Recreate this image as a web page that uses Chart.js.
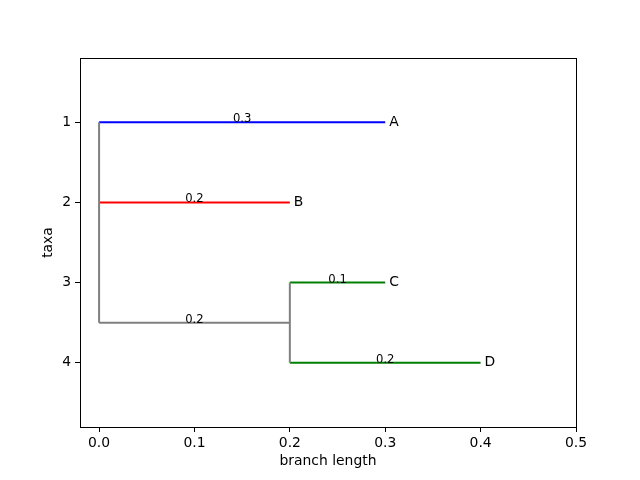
<!DOCTYPE html>
<html>
<head>
<meta charset="utf-8">
<script src="https://cdn.jsdelivr.net/npm/chart.js@4.4.1/dist/chart.umd.min.js"></script>
<style>
  html, body { margin: 0; padding: 0; background: #fff; }
  #wrap { width: 640px; height: 480px; }
</style>
</head>
<body>
<div id="wrap"><canvas id="tree"></canvas></div>
<script>
// tip names and where they sit
var taxa = ['A', 'B', 'C', 'D'];
var taxaY = [1, 2, 3, 4];
var taxaX = [0.3, 0.2, 0.3, 0.4];
// horizontal branches: start, end, row, branch length label
var branchFrom = [0, 0, 0, 0.2, 0.2];
var branchTo = [0.3, 0.2, 0.2, 0.3, 0.4];
var branchRow = [1, 2, 3.5, 3, 4];
var branchText = ['0.3', '0.2', '0.2', '0.1', '0.2'];
// vertical clade connectors
var cladeX = [0, 0.2];
var cladeTop = [1, 3];
var cladeBottom = [3.5, 4];
var xTicks = [0, 0.1, 0.2, 0.3, 0.4, 0.5];
var yTicks = [1, 2, 3, 4];

var branchColors = ['#0000ff', '#ff0000', '#808080', '#008000', '#008000'];
var cladeColor = '#808080';

var datasets = [];
for (var i = 0; i < cladeX.length; i++) {
  datasets.push({
    data: [{x: cladeX[i], y: cladeTop[i]}, {x: cladeX[i], y: cladeBottom[i]}],
    borderColor: cladeColor
  });
}
for (var j = 0; j < branchFrom.length; j++) {
  datasets.push({
    data: [{x: branchFrom[j], y: branchRow[j]}, {x: branchTo[j], y: branchRow[j]}],
    borderColor: branchColors[j]
  });
}
datasets.forEach(function(d) {
  d.showLine = true;
  d.pointRadius = 0;
  d.borderWidth = 2;
  d.borderCapStyle = 'butt';
});

var treeLabels = {
  id: 'treeLabels',
  afterDatasetsDraw: function(chart) {
    var ctx = chart.ctx, xs = chart.scales.x, ys = chart.scales.y;
    ctx.save();
    ctx.fillStyle = '#000';
    ctx.font = '11.6px "DejaVu Sans"';
    ctx.textAlign = 'center';
    ctx.textBaseline = 'alphabetic';
    for (var i = 0; i < branchText.length; i++) {
      ctx.fillText(branchText[i],
        xs.getPixelForValue((branchFrom[i] + branchTo[i]) / 2),
        ys.getPixelForValue(branchRow[i]));
    }
    ctx.font = '13.9px "DejaVu Sans"';
    ctx.textAlign = 'left';
    ctx.textBaseline = 'middle';
    for (var k = 0; k < taxa.length; k++) {
      ctx.fillText(taxa[k], xs.getPixelForValue(taxaX[k]) + 4, ys.getPixelForValue(taxaY[k]));
    }
    // axes frame like matplotlib spines
    var a = chart.chartArea;
    ctx.strokeStyle = '#000';
    ctx.lineWidth = 1;
    ctx.strokeRect(Math.round(a.left) + 0.5, Math.round(a.top) + 0.5,
      Math.round(a.right - a.left), Math.round(a.bottom - a.top));
    ctx.restore();
  }
};

Chart.defaults.font.family = '"DejaVu Sans"';
Chart.defaults.font.size = 13.9;
Chart.defaults.color = '#000';

new Chart(document.getElementById('tree'), {
  type: 'scatter',
  data: { datasets: datasets },
  plugins: [treeLabels],
  options: {
    responsive: true,
    maintainAspectRatio: false,
    animation: false,
    layout: { padding: { left: 0, right: 64, top: 58, bottom: 0 } },
    plugins: { legend: { display: false }, tooltip: { enabled: false } },
    scales: {
      x: {
        type: 'linear',
        min: -0.02,
        max: 0.5,
        afterBuildTicks: function(s) { s.ticks = xTicks.map(function(v) { return {value: v}; }); },
        afterFit: function(s) { s.height = 53; },
        ticks: {
          padding: 3,
          maxRotation: 0,
          callback: function(v) { return v.toFixed(1); }
        },
        grid: { drawOnChartArea: false, tickLength: 5, color: '#000' },
        border: { color: '#000' },
        title: { display: true, text: 'branch length', padding: { top: 0, bottom: 10 } }
      },
      y: {
        type: 'linear',
        reverse: true,
        min: 0.2,
        max: 4.8,
        afterBuildTicks: function(s) { s.ticks = yTicks.map(function(v) { return {value: v}; }); },
        afterFit: function(s) { s.width = 80; },
        ticks: { padding: 4 },
        grid: { drawOnChartArea: false, tickLength: 5, color: '#000' },
        border: { color: '#000' },
        title: { display: true, text: 'taxa', padding: { top: 40, bottom: 0 } }
      }
    }
  }
});
</script>
</body>
</html>
